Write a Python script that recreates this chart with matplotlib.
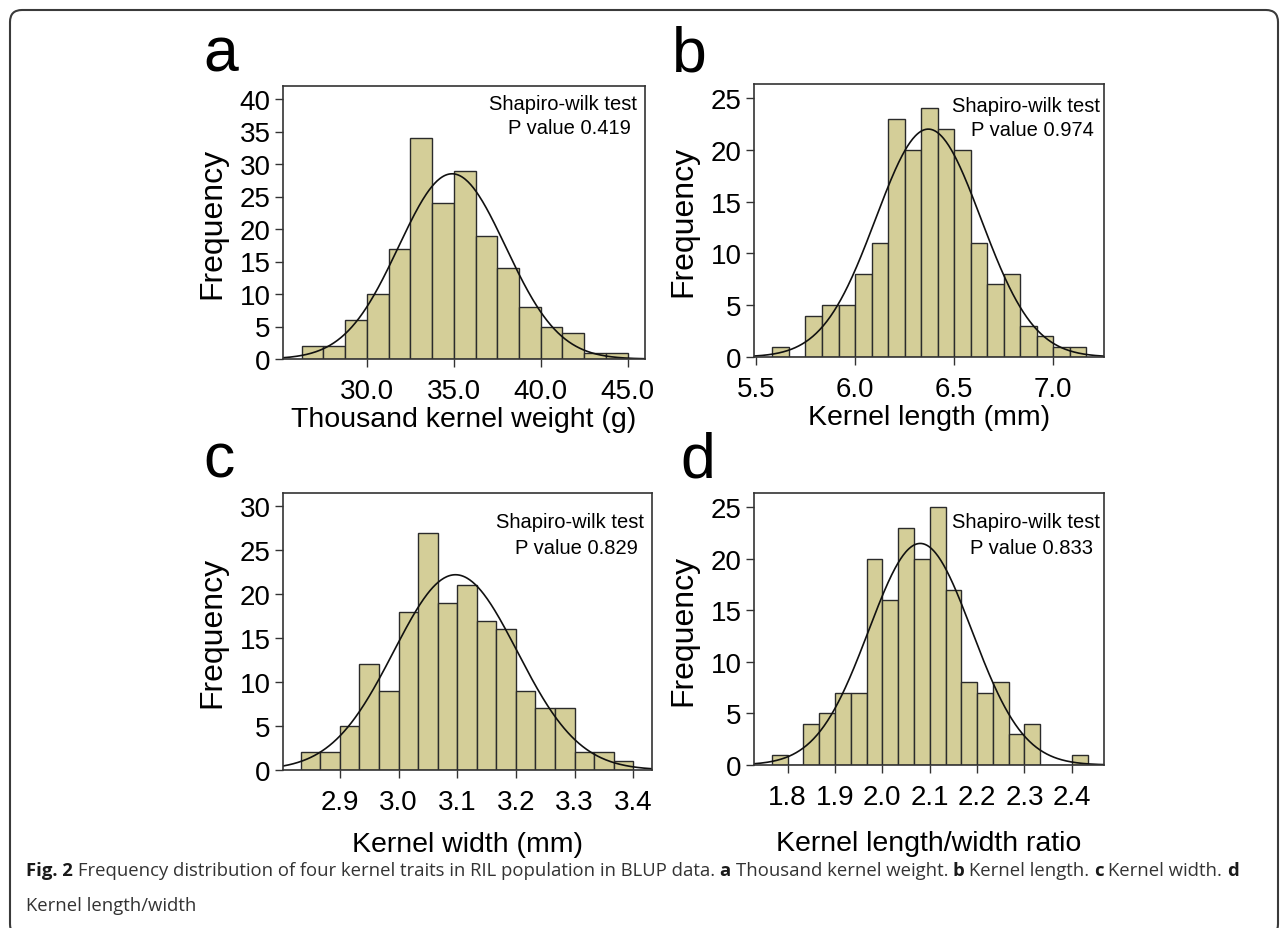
import numpy as np
import matplotlib.pyplot as plt
from matplotlib.patches import FancyBboxPatch

plt.rcParams['font.family'] = ['Liberation Sans', 'DejaVu Sans']

W, H = 1281, 929

# a  thousand kernel weight (g)
tkw_start = 26.25
tkw_bin = 1.25
tkw_counts = [2, 2, 6, 10, 17, 34, 24, 29, 19, 14, 8, 5, 4, 1, 1]
tkw_mean, tkw_sd = 34.9, 3.08
tkw_ticks = [30.0, 35.0, 40.0, 45.0]
tkw_p = "0.419"

# b  kernel length (mm)
kl_start = 5.5833
kl_bin = 1 / 12
kl_counts = [1, 0, 4, 5, 5, 8, 11, 23, 20, 24, 22, 20, 11, 7, 8, 3, 2, 1, 1]
kl_mean, kl_sd = 6.37, 0.266
kl_ticks = [5.5, 6.0, 6.5, 7.0]
kl_p = "0.974"

# c  kernel width (mm)
kw_start = 2.8333
kw_bin = 1 / 30
kw_counts = [2, 2, 5, 12, 9, 18, 27, 19, 21, 17, 16, 9, 7, 7, 2, 2, 1]
kw_mean, kw_sd = 3.097, 0.1054
kw_ticks = [2.9, 3.0, 3.1, 3.2, 3.3, 3.4]
kw_p = "0.829"

# d  length/width ratio
lw_start = 1.7667
lw_bin = 1 / 30
lw_counts = [1, 0, 4, 5, 7, 7, 20, 16, 23, 20, 25, 17, 8, 7, 8, 3, 4, 0, 0, 1]
lw_mean, lw_sd = 2.08, 0.109
lw_ticks = [1.8, 1.9, 2.0, 2.1, 2.2, 2.3, 2.4]
lw_p = "0.833"

panels = [
    dict(letter="a", start=tkw_start, bw=tkw_bin, counts=tkw_counts, mean=tkw_mean, sd=tkw_sd,
         xticks=tkw_ticks, p=tkw_p, xlabel="Thousand kernel weight (g)",
         box=(283, 87, 645, 360), xlim=(25.17, 46.0), ylim=42.0, yticks=range(0, 41, 5),
         letter_xy=(203, 72), txt_xy=(563, 104), xlpad=1),
    dict(letter="b", start=kl_start, bw=kl_bin, counts=kl_counts, mean=kl_mean, sd=kl_sd,
         xticks=kl_ticks, p=kl_p, xlabel="Kernel length (mm)",
         box=(754, 85, 1104, 358), xlim=(5.49, 7.257), ylim=26.35, yticks=range(0, 26, 5),
         letter_xy=(672, 72), txt_xy=(1026, 106), xlpad=1),
    dict(letter="c", start=kw_start, bw=kw_bin, counts=kw_counts, mean=kw_mean, sd=kw_sd,
         xticks=kw_ticks, p=kw_p, xlabel="Kernel width (mm)",
         box=(283, 494, 652, 771), xlim=(2.803, 3.432), ylim=31.5, yticks=range(0, 31, 5),
         letter_xy=(203, 478), txt_xy=(570, 523), xlpad=11),
    dict(letter="d", start=lw_start, bw=lw_bin, counts=lw_counts, mean=lw_mean, sd=lw_sd,
         xticks=lw_ticks, p=lw_p, xlabel="Kernel length/width ratio",
         box=(754, 494, 1104, 766), xlim=(1.729, 2.468), ylim=26.36, yticks=range(0, 26, 5),
         letter_xy=(680, 478), txt_xy=(1026, 523), xlpad=14),
]

fig = plt.figure(figsize=(W / 100, H / 100), dpi=100)

# rounded frame of the figure
frame = FancyBboxPatch((0.10, -0.08), 12.68, 9.26, boxstyle="round,pad=0,rounding_size=0.12",
                       transform=fig.dpi_scale_trans, fill=False, edgecolor="#3a3a3a", lw=1.5)
fig.patches.append(frame)

bar_color = "#d4ce98"
for p in panels:
    x0, y0, x1, y1 = p["box"]
    ax = fig.add_axes([x0 / W, 1 - y1 / H, (x1 - x0) / W, (y1 - y0) / H])
    counts = np.array(p["counts"])
    lefts = p["start"] + p["bw"] * np.arange(len(counts))
    ax.bar(lefts, counts, width=p["bw"], align="edge", color=bar_color,
           edgecolor="#2b2b2b", linewidth=1.0)
    # fitted normal curve
    xs = np.linspace(p["xlim"][0], p["xlim"][1], 400)
    n = counts.sum()
    ys = n * p["bw"] / (p["sd"] * np.sqrt(2 * np.pi)) * np.exp(-0.5 * ((xs - p["mean"]) / p["sd"]) ** 2)
    ax.plot(xs, ys, color="#111111", lw=1.2)

    ax.set_xlim(*p["xlim"])
    ax.set_ylim(0, p["ylim"])
    ax.set_xticks(p["xticks"])
    ax.set_xticklabels([f"{t:.1f}" for t in p["xticks"]])
    ax.set_yticks(list(p["yticks"]))
    ax.tick_params(axis="x", direction="out", length=6, width=1.0, pad=8, labelsize=20, color="#333333")
    ax.tick_params(axis="y", direction="out", length=6, width=1.0, pad=3, labelsize=20, color="#333333")
    for s in ax.spines.values():
        s.set_linewidth(1.2)
        s.set_color("#333333")
    ax.set_ylabel("Frequency", fontsize=23, labelpad=9)
    ax.set_xlabel(p["xlabel"], fontsize=20.5, labelpad=p["xlpad"])

    tx, ty = p["txt_xy"]
    fig.text(tx / W, 1 - ty / H, "Shapiro-wilk test", fontsize=14.5, ha="center", va="center")
    fig.text((tx + 6) / W, 1 - (ty + 25) / H, "P value " + p["p"], fontsize=14.5, ha="center", va="center")

    lx, ly = p["letter_xy"]
    fig.text(lx / W, 1 - ly / H, p["letter"], fontsize=45, ha="left", va="baseline")

# caption with bold pieces
renderer = fig.canvas.get_renderer()
cap_font = ["Open Sans", "DejaVu Sans"]
line1 = [("Fig. 2", True),
         ("Frequency distribution of four kernel traits in RIL population in BLUP data.", False),
         ("a", True), ("Thousand kernel weight.", False),
         ("b", True), ("Kernel length.", False),
         ("c", True), ("Kernel width.", False),
         ("d", True)]
line2 = [("Kernel length/width", False)]


def text_width(s, bold, size):
    t = fig.text(0, 0, s, fontsize=size, family=cap_font, fontweight="bold" if bold else "normal")
    w = t.get_window_extent(renderer=renderer).width
    t.remove()
    return w


def line_width(parts, size):
    sp = text_width("x x", False, size) - text_width("xx", False, size)
    return sum(text_width(s, b, size) for s, b in parts) + sp * (len(parts) - 1)


# fit the first caption line between x=26 and x=1240
cap_size = 14.0 * (1240 - 26) / line_width(line1, 14.0)
space = text_width("x x", False, cap_size) - text_width("xx", False, cap_size)


def rich_line(x, y, parts):
    for s, bold in parts:
        t = fig.text(x / W, 1 - y / H, s, fontsize=cap_size, family=cap_font,
                     fontweight="bold" if bold else "normal",
                     color="#1a1a1a" if bold else "#333333", va="baseline")
        x += t.get_window_extent(renderer=renderer).width + space


rich_line(26, 876, line1)
rich_line(26, 911, line2)

fig.savefig("out.png", dpi=100)
